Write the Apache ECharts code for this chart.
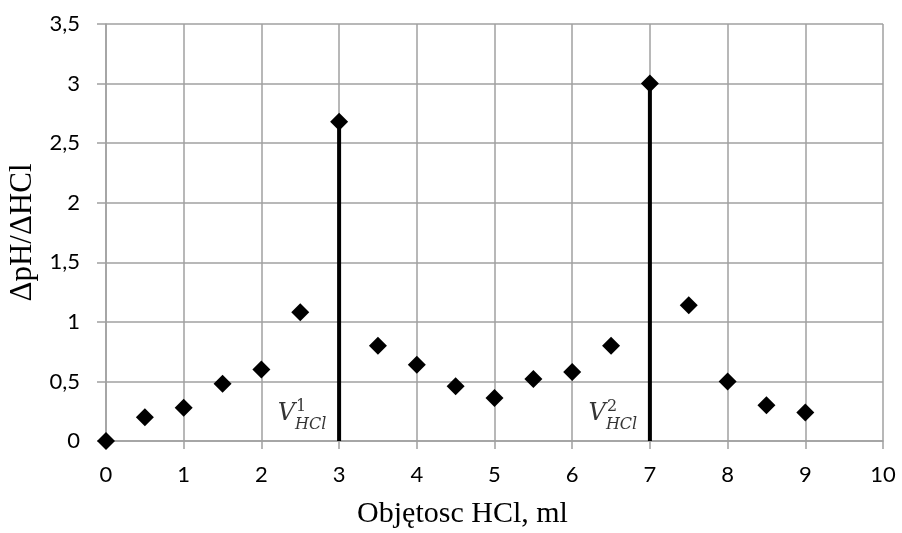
<!DOCTYPE html>
<html>
<head>
<meta charset="utf-8">
<script src="https://cdn.jsdelivr.net/npm/echarts@6/dist/echarts.min.js"></script>
<style>
  html, body { margin: 0; padding: 0; background: #fff; }
  #main { width: 902px; height: 533px; }
</style>
</head>
<body>
<div id="main"></div>
<script>
var volumes = [0, 0.5, 1, 1.5, 2, 2.5, 3, 3.5, 4, 4.5, 5, 5.5, 6, 6.5, 7, 7.5, 8, 8.5, 9];
var dpH = [0, 0.2, 0.28, 0.48, 0.6, 1.08, 2.68, 0.8, 0.64, 0.46, 0.36, 0.52, 0.58, 0.8, 3.0, 1.14, 0.5, 0.3, 0.24];
var peak1 = [[3, 0], [3, 2.68]];
var peak2 = [[7, 0], [7, 3.0]];
var peakX = [3, 7];
var peakSup = ['1', '2'];

var myChart = echarts.init(document.getElementById('main'));

var points = volumes.map(function (v, i) { return [v, dpH[i]]; });

function comma(v) {
    return String(v).replace('.', ',');
}

// V, superscript and subscript as three labels anchored at the foot of each peak line
function peakText(text, pos, align, size, italic) {
    return {
        type: 'scatter', symbolSize: 0, silent: true, z: 5,
        data: peakX.map(function (x, i) {
            return { value: [x, 0], name: text === null ? peakSup[i] : text };
        }),
        label: {
            show: true, position: pos, align: align, verticalAlign: 'middle',
            formatter: '{b}',
            fontFamily: 'DejaVu Serif', fontSize: size,
            fontStyle: italic ? 'italic' : 'normal', color: '#000'
        }
    };
}

var option = {
    animation: false,
    grid: { left: 106, right: 19, top: 24, bottom: 92, outerBoundsMode: 'none', containLabel: false },
    xAxis: {
        type: 'value',
        min: 0, max: 10, interval: 1,
        name: 'Objętosc HCl, ml',
        nameLocation: 'middle',
        nameGap: 58,
        nameTextStyle: { fontFamily: 'Liberation Serif', fontSize: 30, color: '#000', padding: [0, 64, 0, 0] },
        axisLine: { lineStyle: { color: '#a0a0a0', width: 1.5 } },
        axisTick: { show: true, length: 8, lineStyle: { color: '#a0a0a0', width: 1.5 } },
        splitLine: { show: true, lineStyle: { color: '#a0a0a0', width: 1.5 } },
        axisLabel: { fontFamily: 'Lato', fontSize: 22, color: '#000', margin: 23 }
    },
    yAxis: {
        type: 'value',
        min: 0, max: 3.5, interval: 0.5,
        name: 'ΔpH/ΔHCl',
        nameLocation: 'middle',
        nameGap: 67,
        nameTextStyle: { fontFamily: 'Liberation Serif', fontSize: 31, color: '#000' },
        axisLine: { show: true, lineStyle: { color: '#a0a0a0', width: 1.5 } },
        axisTick: { show: true, length: 9, lineStyle: { color: '#a0a0a0', width: 1.5 } },
        splitLine: { show: true, lineStyle: { color: '#a0a0a0', width: 1.5 } },
        axisLabel: { fontFamily: 'Lato', fontSize: 22, color: '#000', margin: 26, formatter: comma }
    },
    series: [
        {
            type: 'line', data: peak1, symbol: 'none',
            lineStyle: { color: '#000', width: 4 }, z: 3
        },
        {
            type: 'line', data: peak2, symbol: 'none',
            lineStyle: { color: '#000', width: 4 }, z: 3
        },
        {
            type: 'scatter', data: points, symbol: 'diamond', symbolSize: 18,
            itemStyle: { color: '#000', opacity: 1 }, z: 4
        },
        peakText('V', [-44, -27], 'right', 24, true),
        peakText(null, [-43, -34], 'left', 16, false),
        peakText('HCl', [-44, -16], 'left', 16, true)
    ]
};

myChart.setOption(option);
window.onresize = function () {
    myChart.resize();
};
</script>
</body>
</html>
